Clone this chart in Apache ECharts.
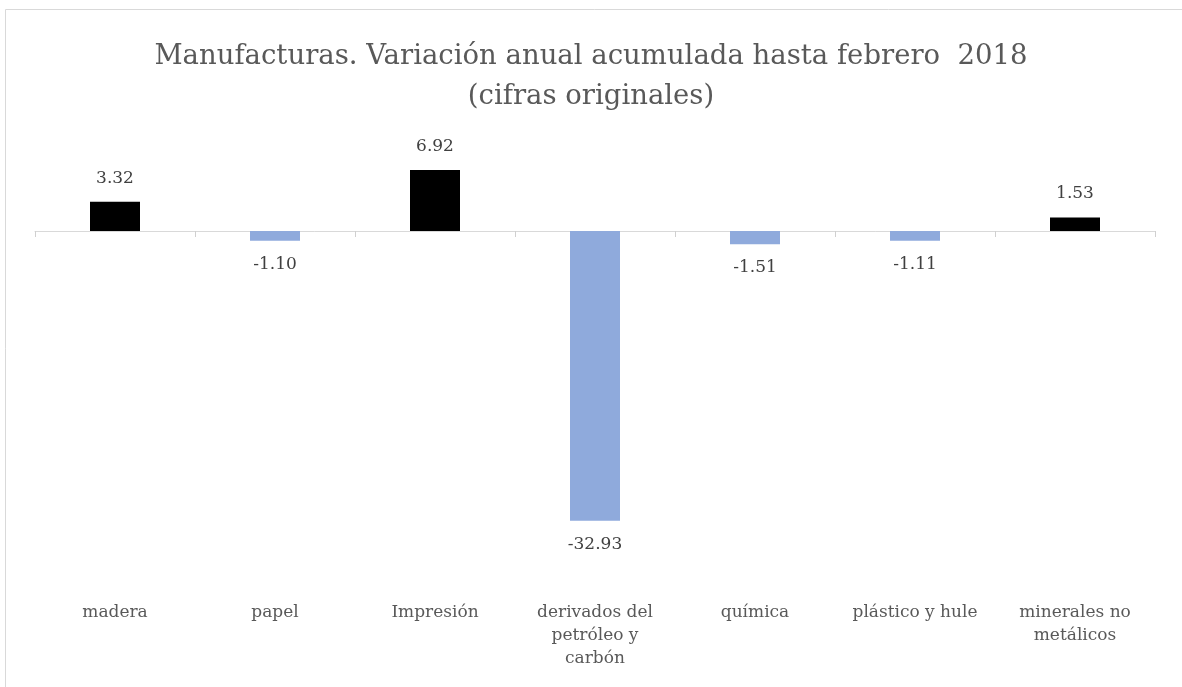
<!DOCTYPE html>
<html>

<head>
	<meta charset="utf-8" />
	<title>Manufacturas</title>
	<script src="https://cdn.jsdelivr.net/npm/echarts@6/dist/echarts.min.js"></script>
	<style>
		body { margin: 0; background: #fff; }
		#main { width: 1182px; height: 687px; }
	</style>
</head>

<body>
	<div id="main"></div>
	<script type="text/javascript">
		// datos
		var categorias = ['madera', 'papel', 'Impresión', 'derivados del\npetróleo y\ncarbón', 'química', 'plástico y hule', 'minerales no\nmetálicos'];
		var valores = [3.32, -1.10, 6.92, -32.93, -1.51, -1.11, 1.53];

		var fuente = 'DejaVu Serif';
		var myChart = echarts.init(document.getElementById('main'));

		// negativos en azul con la etiqueta abajo
		var datos = valores.map(function (v) {
			return {
				value: v,
				itemStyle: { color: v >= 0 ? '#000000' : '#8faadc' },
				label: { position: v >= 0 ? 'top' : 'bottom' }
			};
		});

		var option = {
			animation: false,
			title: {
				text: 'Manufacturas. Variación anual acumulada hasta febrero  2018\n(cifras originales)',
				left: 'center',
				top: 32,
				textStyle: {
					fontFamily: fuente,
					fontSize: 27.5,
					fontWeight: 'normal',
					color: '#595959',
					lineHeight: 40
				}
			},
			graphic: [{
				type: 'rect',
				shape: { x: 5.5, y: 9.5, width: 1200, height: 700 },
				style: { fill: 'none', stroke: '#d9d9d9', lineWidth: 1 },
				silent: true
			}],
			grid: {
				left: 35,
				right: 27,
				top: 143,
				height: 396
			},
			xAxis: [{
				type: 'category',
				data: categorias,
				axisLine: { onZero: true, lineStyle: { color: '#d9d9d9', width: 1 } },
				axisTick: { show: true, length: 6, lineStyle: { color: '#d0d0d0' } },
				axisLabel: { show: false }
			}, {
				type: 'category',
				data: categorias,
				position: 'bottom',
				axisLine: { show: false },
				axisTick: { show: false },
				axisLabel: {
					margin: 62,
					interval: 0,
					fontFamily: fuente,
					fontSize: 17,
					color: '#595959',
					lineHeight: 23
				}
			}],
			yAxis: {
				type: 'value',
				min: -35,
				max: 10,
				show: false,
				splitLine: { show: false }
			},
			series: [{
				type: 'bar',
				data: datos,
				barWidth: 50,
				label: {
					show: true,
					distance: 15,
					fontFamily: fuente,
					fontSize: 17,
					color: '#404040',
					formatter: function (p) {
						return p.value.toFixed(2);
					}
				}
			}]
		};

		myChart.setOption(option);
	</script>
</body>

</html>
